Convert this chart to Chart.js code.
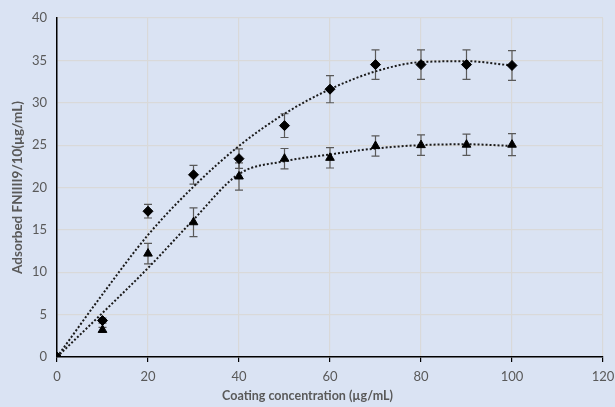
<!DOCTYPE html>
<html>
<head>
<meta charset="utf-8">
<script src="https://cdn.jsdelivr.net/npm/chart.js@4"></script>
<style>
  html, body { margin: 0; padding: 0; background: #dae3f3; }
  #wrap { width: 615px; height: 407px; }
</style>
</head>
<body>
<div id="wrap"><canvas id="chart" width="615" height="407"></canvas></div>
<script>
// Coating concentration (µg/mL)
const concentrations = [0, 10, 20, 30, 40, 50, 60, 70, 80, 90, 100];

// Diamond series
const diamondValues = [0, 4.3, 17.2, 21.5, 23.4, 27.3, 31.6, 34.5, 34.5, 34.5, 34.4];
const diamondErrors = [0, 0.3, 0.8, 1.1, 1.15, 1.4, 1.6, 1.75, 1.75, 1.75, 1.75];
const diamondTrend = [0, 7.4, 14.4, 20.1, 24.9, 28.7, 31.6, 33.7, 34.8, 34.9, 34.4];

// Triangle series
const triangleValues = [0, 3.2, 12.2, 15.9, 21.3, 23.4, 23.5, 24.9, 25.0, 25.05, 25.05];
const triangleErrors = [0, 0.3, 1.2, 1.7, 1.6, 1.2, 1.2, 1.2, 1.2, 1.25, 1.3];
const triangleTrend = [0, 5.2, 10.5, 16.2, 21.6, 23.1, 23.9, 24.6, 25.0, 25.1, 24.9];

const xTicks = [0, 20, 40, 60, 80, 100, 120];
const yTicks = [0, 5, 10, 15, 20, 25, 30, 35, 40];
const xTitle = 'Coating concentration (µg/mL)';
const yTitle = 'Adsorbed FNIIII9/10(µg/mL)';

const toPoints = (xs, ys) => xs.map((x, i) => ({ x: x, y: ys[i] }));

const fontFamily = "Lato, 'Open Sans', sans-serif";
const labelFont = { family: fontFamily, size: 13 };

// Background fill, plus the x title centred on the whole chart like Excel does
const background = {
    id: 'background',
    beforeDraw(chart) {
        const ctx = chart.ctx;
        ctx.save();
        ctx.fillStyle = '#dae3f3';
        ctx.fillRect(0, 0, chart.width, chart.height);
        ctx.restore();
    },
    afterDraw(chart) {
        const ctx = chart.ctx;
        ctx.save();
        ctx.fillStyle = '#595959';
        ctx.font = 'bold 12.5px ' + fontFamily;
        ctx.textAlign = 'center';
        ctx.textBaseline = 'middle';
        ctx.fillText(xTitle, chart.width / 2, 396);
        ctx.restore();
    }
};

// Vertical error bars, drawn under the markers
const errorBars = {
    id: 'errorBars',
    beforeDatasetsDraw(chart) {
        const ctx = chart.ctx;
        const xs = chart.scales.x, ys = chart.scales.y;
        ctx.save();
        ctx.strokeStyle = '#595959';
        ctx.lineWidth = 1.2;
        chart.data.datasets.forEach(ds => {
            if (!ds.errors) return;
            ds.data.forEach((p, i) => {
                const e = ds.errors[i];
                if (!e) return;
                const px = xs.getPixelForValue(p.x);
                const top = ys.getPixelForValue(p.y + e);
                const bot = ys.getPixelForValue(p.y - e);
                ctx.beginPath();
                ctx.moveTo(px, top); ctx.lineTo(px, bot);
                ctx.moveTo(px - 4, top); ctx.lineTo(px + 4, top);
                ctx.moveTo(px - 4, bot); ctx.lineTo(px + 4, bot);
                ctx.stroke();
            });
        });
        ctx.restore();
    }
};

new Chart(document.getElementById('chart'), {
    type: 'scatter',
    data: {
        datasets: [
            {
                data: toPoints(concentrations, diamondValues),
                errors: diamondErrors,
                pointStyle: 'rectRot',
                pointRadius: 5,
                pointBackgroundColor: '#000',
                pointBorderColor: '#000',
                showLine: false,
                order: 1
            },
            {
                data: toPoints(concentrations, triangleValues),
                errors: triangleErrors,
                pointStyle: 'triangle',
                pointRadius: 5,
                pointBackgroundColor: '#000',
                pointBorderColor: '#000',
                showLine: false,
                order: 1
            },
            {
                data: toPoints(concentrations, diamondTrend),
                showLine: true,
                pointRadius: 0,
                borderColor: '#1a1a1a',
                borderWidth: 2,
                borderDash: [2, 2],
                cubicInterpolationMode: 'monotone',
                order: 2
            },
            {
                data: toPoints(concentrations, triangleTrend),
                showLine: true,
                pointRadius: 0,
                borderColor: '#1a1a1a',
                borderWidth: 2,
                borderDash: [2, 2],
                cubicInterpolationMode: 'monotone',
                order: 2
            }
        ]
    },
    options: {
        responsive: false,
        animation: false,
        layout: { padding: { top: 18, right: 12, left: 0, bottom: 0 } },
        plugins: {
            legend: { display: false },
            tooltip: { enabled: false }
        },
        scales: {
            x: {
                type: 'linear',
                min: 0,
                max: 120,
                afterBuildTicks: scale => { scale.ticks = xTicks.map(v => ({ value: v })); },
                afterFit: scale => {
                    scale.height = 50;
                    scale.paddingLeft = 0;
                    scale.paddingRight = 0;
                },
                grid: { color: '#d9d9d9', lineWidth: 1.2, drawTicks: true, tickLength: 5, tickColor: '#000' },
                border: { color: '#000', width: 1.5 },
                ticks: { color: '#595959', font: labelFont, padding: 7, maxRotation: 0 },
                title: { display: false }
            },
            y: {
                min: 0,
                max: 40,
                afterBuildTicks: scale => { scale.ticks = yTicks.map(v => ({ value: v })); },
                afterFit: scale => {
                    scale.width = 57;
                    scale.paddingTop = 0;
                    scale.paddingBottom = 0;
                },
                grid: { color: '#d9d9d9', lineWidth: 1.2, drawTicks: false },
                border: { color: '#000', width: 1.5 },
                ticks: { color: '#595959', font: labelFont, padding: 10 },
                title: {
                    display: true,
                    text: yTitle,
                    color: '#595959',
                    font: { family: fontFamily, size: 13.5, weight: 'bold' },
                    padding: { top: 10, bottom: 0 }
                }
            }
        }
    },
    plugins: [background, errorBars]
});
</script>
</body>
</html>
